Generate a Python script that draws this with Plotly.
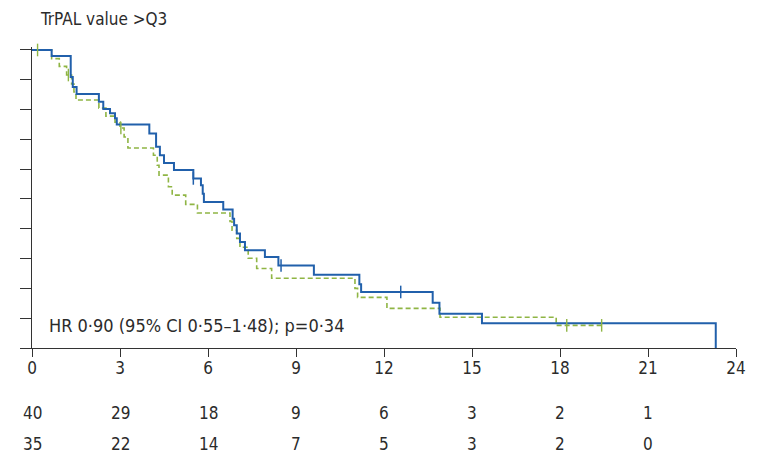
import plotly.graph_objects as go

# ---------------- data ----------------
title_text = "TrPAL value >Q3"
hr_text = "HR 0·90 (95% CI 0·55–1·48); p=0·34"

# Blue (solid) Kaplan-Meier curve: event times (months) and survival after each step
blue_times = [0.0, 0.67, 1.32, 1.39, 1.52, 2.28, 2.43, 2.66, 2.83, 2.89, 4.00, 4.23, 4.36,
              4.50, 4.84, 5.50, 5.76, 5.82, 5.86, 6.52, 6.84, 6.89, 6.98, 7.09, 7.26, 7.94,
              8.40, 9.61, 11.16, 11.22, 13.66, 13.89, 15.34, 23.31]
blue_surv = [1.0, 0.980, 0.909, 0.876, 0.852, 0.826, 0.802, 0.788, 0.771, 0.750, 0.720, 0.675,
             0.647, 0.621, 0.597, 0.569, 0.546, 0.518, 0.490, 0.465, 0.434, 0.412, 0.384, 0.356,
             0.328, 0.305, 0.277, 0.246, 0.214, 0.188, 0.152, 0.115, 0.083, 0.0]
blue_censor = [5.50, 8.49, 12.57]

# Green (dashed) Kaplan-Meier curve
green_times = [0.0, 0.67, 0.93, 1.18, 1.35, 1.43, 1.50, 2.28, 2.52, 2.83, 3.00, 3.14, 3.27,
               4.14, 4.27, 4.33, 4.65, 4.78, 5.24, 5.64, 6.75, 6.82, 6.98, 7.09, 7.37, 7.66,
               8.17, 11.01, 11.10, 12.10, 13.91, 17.87, 19.42]
green_surv = [1.0, 0.971, 0.945, 0.916, 0.886, 0.859, 0.832, 0.805, 0.778, 0.758, 0.738, 0.708,
              0.671, 0.647, 0.613, 0.580, 0.541, 0.513, 0.482, 0.453, 0.425, 0.395, 0.368, 0.338,
              0.301, 0.267, 0.234, 0.200, 0.170, 0.133, 0.103, 0.076, 0.076]
green_censor = [0.19, 1.24, 3.03, 18.23, 19.42]

# x-axis ticks and numbers at risk
x_ticks = [0, 3, 6, 9, 12, 15, 18, 21, 24]
risk_times = [0, 3, 6, 9, 12, 15, 18, 21]
risk_blue = [40, 29, 18, 9, 6, 3, 2, 1]
risk_green = [35, 22, 14, 7, 5, 3, 2, 0]

# ---------------- styling ----------------
BLUE = "#2160ab"
GREEN = "#8fb544"
TEXT = "#2b2b2b"
AXIS = "#333333"
FONT = "Liberation Sans Narrow, DejaVu Sans Condensed, Arial Narrow, sans-serif"


def surv_at(times, surv, t):
    s = surv[0]
    for ti, si in zip(times, surv):
        if ti <= t:
            s = si
        else:
            break
    return s


fig = go.Figure()

fig.add_trace(go.Scatter(
    x=green_times, y=green_surv, mode="lines", line_shape="hv",
    line=dict(color=GREEN, width=1.6, dash="5px,3px"), hoverinfo="skip", showlegend=False))
fig.add_trace(go.Scatter(
    x=blue_times, y=blue_surv, mode="lines", line_shape="hv",
    line=dict(color=BLUE, width=2), hoverinfo="skip", showlegend=False))

fig.add_trace(go.Scatter(
    x=green_censor, y=[surv_at(green_times, green_surv, t) for t in green_censor],
    mode="markers", marker=dict(symbol="line-ns", size=9, line=dict(color=GREEN, width=1.4)),
    hoverinfo="skip", showlegend=False, cliponaxis=False))
fig.add_trace(go.Scatter(
    x=blue_censor, y=[surv_at(blue_times, blue_surv, t) for t in blue_censor],
    mode="markers", marker=dict(symbol="line-ns", size=9, line=dict(color=BLUE, width=1.5)),
    hoverinfo="skip", showlegend=False, cliponaxis=False))

annotations = [
    dict(text=title_text, xref="paper", yref="paper", x=0.008, y=1.093,
         xanchor="left", yanchor="middle", showarrow=False, font=dict(size=17, color=TEXT, family=FONT)),
    dict(text=hr_text, xref="x", yref="y", x=0.52, y=0.074,
         xanchor="left", yanchor="middle", showarrow=False, font=dict(size=18, color=TEXT, family=FONT)),
]
for t, a, b in zip(risk_times, risk_blue, risk_green):
    annotations.append(dict(text=str(a), xref="x", yref="paper", x=t, y=-0.216,
                            xanchor="center", yanchor="middle", showarrow=False,
                            font=dict(size=17, color=TEXT, family=FONT)))
    annotations.append(dict(text=str(b), xref="x", yref="paper", x=t, y=-0.319,
                            xanchor="center", yanchor="middle", showarrow=False,
                            font=dict(size=17, color=TEXT, family=FONT)))

fig.update_layout(
    width=760, height=460,
    margin=dict(l=32, r=24, t=47, b=112),
    paper_bgcolor="white", plot_bgcolor="white",
    font=dict(family=FONT, size=17, color=TEXT),
    annotations=annotations,
    xaxis=dict(range=[0, 24], tickvals=x_ticks, ticktext=[str(v) for v in x_ticks],
               showline=True, linecolor=AXIS, linewidth=1.3, ticks="outside", ticklen=8,
               tickwidth=1.3, tickcolor=AXIS, showgrid=False, zeroline=False,
               ticklabelstandoff=-4,
               tickfont=dict(size=17, color=TEXT, family=FONT)),
    yaxis=dict(range=[0, 1.01], tick0=0, dtick=0.1, showticklabels=False,
               showline=True, linecolor=AXIS, linewidth=1.3, ticks="outside", ticklen=11,
               tickwidth=1.3, tickcolor=AXIS, showgrid=False, zeroline=False),
)

fig.write_html("out.html",
               config={"displayModeBar": False},
               post_script="document.body.style.margin='0px';document.body.style.padding='0px';")
